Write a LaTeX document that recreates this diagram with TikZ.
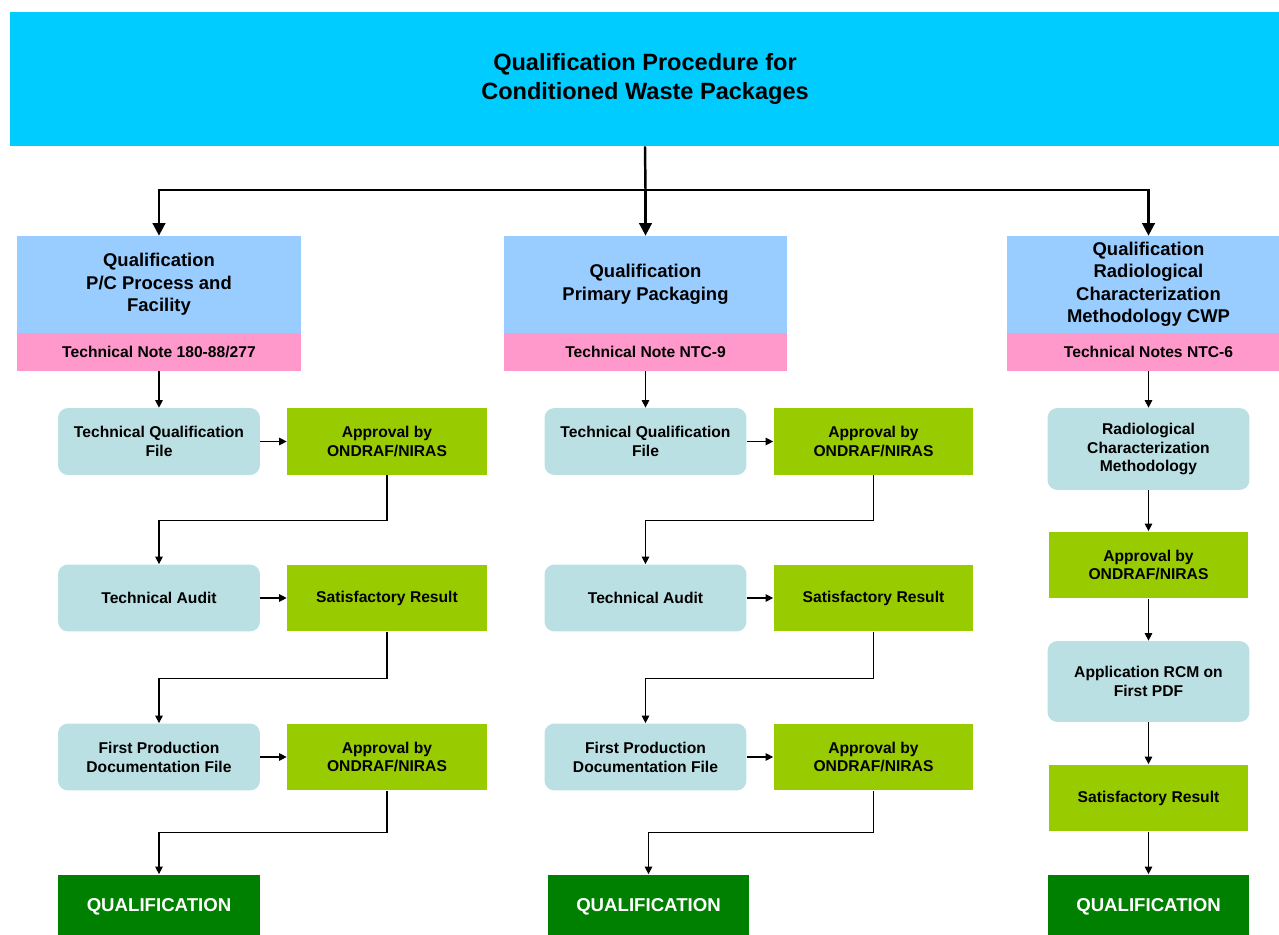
\documentclass[tikz,border=0pt]{standalone}
\usepackage{fontspec}
\setmainfont{Liberation Sans}
\usepackage{xcolor}
\usetikzlibrary{arrows.meta,positioning}

\definecolor{titlecyan}{HTML}{00CCFF}
\definecolor{headblue}{HTML}{99CCFF}
\definecolor{notepink}{HTML}{FF99CC}
\definecolor{fileblue}{HTML}{BBE0E3}
\definecolor{okgreen}{HTML}{99CC00}
\definecolor{finalgreen}{HTML}{008000}

\begin{document}
\begin{tikzpicture}[x=0.02cm, y=-0.02cm,
  txt/.style={font=\bfseries\fontsize{8.9}{10.8}\selectfont, align=center, inner sep=0pt},
  titlebox/.style={fill=titlecyan, minimum width=25.4cm, minimum height=2.68cm, align=center, font=\bfseries\fontsize{13.4}{16.4}\selectfont},
  headbox/.style={txt, fill=headblue, minimum width=5.68cm, minimum height=1.94cm, font=\bfseries\fontsize{10.5}{12.8}\selectfont},
  notebox/.style={txt, fill=notepink, minimum width=5.68cm, minimum height=0.76cm},
  filebox/.style={txt, fill=fileblue, rounded corners=0.2cm, minimum width=4.04cm, minimum height=1.34cm},
  okbox/.style={txt, fill=okgreen, minimum width=4.0cm, minimum height=1.34cm},
  finalbox/.style={txt, fill=finalgreen, text=white, minimum width=4.04cm, minimum height=1.3cm, font=\bfseries\fontsize{10.6}{12}\selectfont},
  link/.style={-{Triangle[length=0.15cm, width=0.15cm]}, line width=0.6pt},
  mainlink/.style={-{Triangle[length=0.25cm, width=0.25cm]}, line width=1.4pt}]

\useasboundingbox (0,0) rectangle (1279,935);

% Title
\node[titlebox] (title) at (645,79) {\raisebox{-3pt}{Qualification Procedure for}\\\raisebox{-3pt}{Conditioned Waste Packages}};

% Column headers
\node[headbox] (hdP) at (159,284.5) {Qualification\\P/C Process and\\Facility};
\node[notebox] (noteP) at (159,352) {Technical Note 180-88/277};
\node[headbox] (hdK) at (645.5,284.5) {Qualification\\Primary Packaging};
\node[notebox] (noteK) at (645.5,352) {Technical Note NTC-9};
\node[headbox] (hdR) at (1148.5,284.5) {Qualification\\Radiological\\Characterization\\Methodology CWP};
\node[notebox] (noteR) at (1148.5,352) {Technical Notes NTC-6};

\coordinate (split) at (645.5,190);
\draw[line width=1.4pt] (title.south) -- (split);
\draw[mainlink] (split) -| (hdP.north);
\draw[mainlink] (split) -- (hdK.north);
\draw[mainlink] (split) -| (hdR.north);

% P/C process and facility
\node[filebox] (tqfP) at (159,441.5) {Technical Qualification\\File};
\node[okbox] (apP1) at (387,441.5) {Approval by\\ONDRAF/NIRAS};
\node[filebox] (auP) at (159,598) {Technical Audit};
\node[okbox] (satP) at (387,598) {Satisfactory Result};
\node[filebox] (fpdP) at (159,757) {First Production\\Documentation File};
\node[okbox] (apP2) at (387,757) {Approval by\\ONDRAF/NIRAS};
\node[finalbox] (qualP) at (159,907) {QUALIFICATION};

\draw[link] (noteP.south) -- (tqfP.north);
\draw[link] (tqfP) -- (apP1);
\draw[link] (apP1.south) -- ++(0,45) -| (auP.north);
\draw[link] (auP) -- (satP);
\draw[link] (satP.south) -- ++(0,47) -| (fpdP.north);
\draw[link] (fpdP) -- (apP2);
\draw[link] (apP2.south) -- ++(0,42) -| (qualP.north);

% Primary packaging
\node[filebox] (tqfK) at (645.5,441.5) {Technical Qualification\\File};
\node[okbox] (apK1) at (873.5,441.5) {Approval by\\ONDRAF/NIRAS};
\node[filebox] (auK) at (645.5,598) {Technical Audit};
\node[okbox] (satK) at (873.5,598) {Satisfactory Result};
\node[filebox] (fpdK) at (645.5,757) {First Production\\Documentation File};
\node[okbox] (apK2) at (873.5,757) {Approval by\\ONDRAF/NIRAS};
\node[finalbox] (qualK) at (648.5,907) {QUALIFICATION};

\draw[link] (noteK.south) -- (tqfK.north);
\draw[link] (tqfK) -- (apK1);
\draw[link] (apK1.south) -- ++(0,45) -| (auK.north);
\draw[link] (auK) -- (satK);
\draw[link] (satK.south) -- ++(0,47) -| (fpdK.north);
\draw[link] (fpdK) -- (apK2);
\draw[link] (apK2.south) -- ++(0,42) -| (qualK.north);

% Radiological characterization
\node[filebox, minimum height=1.64cm] (rcmR) at (1148.5,449) {Radiological\\Characterization\\Methodology};
\node[okbox] (apR) at (1148.5,565) {Approval by\\ONDRAF/NIRAS};
\node[filebox, minimum height=1.62cm] (appR) at (1148.5,681.5) {Application RCM on\\First PDF};
\node[okbox] (satR) at (1148.5,798) {Satisfactory Result};
\node[finalbox] (qualR) at (1148.5,907) {QUALIFICATION};

\draw[link] (noteR.south) -- (rcmR.north);
\draw[link] (rcmR) -- (apR);
\draw[link] (apR) -- (appR);
\draw[link] (appR) -- (satR);
\draw[link] (satR) -- (qualR);

\end{tikzpicture}
\end{document}
